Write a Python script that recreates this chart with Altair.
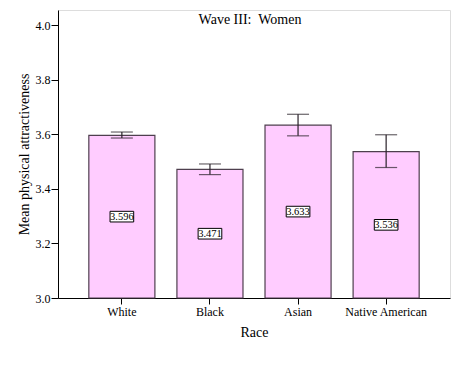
import altair as alt
import pandas as pd

races = ["White", "Black", "Asian", "Native American"]
means = [3.596, 3.471, 3.633, 3.536]
lower = [3.586, 3.452, 3.594, 3.478]
upper = [3.608, 3.491, 3.673, 3.598]
labels = ["3.596", "3.471", "3.633", "3.536"]

df = pd.DataFrame({"race": races, "mean": means, "lo": lower, "hi": upper,
                   "label": labels, "mid": [(3.0 + m) / 2 for m in means]})

FONT = "Liberation Serif"
W, H = 392, 288

xenc = alt.X("race:N", sort=races, title="Race",
             scale=alt.Scale(paddingInner=0.25, paddingOuter=0.35),
             axis=alt.Axis(labelAngle=0, labelFont=FONT, labelFontSize=12, labelColor="black",
                           titleFont=FONT, titleFontSize=14, titleFontWeight="normal", titleColor="black",
                           titleX=196, titleY=27, titleAnchor="middle", titleAlign="center",
                           tickSize=6, tickColor="black", domainColor="black", labelPadding=2))
yscale = alt.Scale(domain=[3.0, 4.055], nice=False, zero=False)
yenc = alt.Y("mean:Q", scale=yscale, title="Mean physical attractiveness",
             axis=alt.Axis(values=[3.0, 3.2, 3.4, 3.6, 3.8, 4.0], format=".1f", grid=False,
                           labelFont=FONT, labelFontSize=12, labelColor="black",
                           titleFont=FONT, titleFontSize=14, titleFontWeight="normal", titleColor="black",
                           titleX=-34, titleY=144, titleAlign="center", titleBaseline="middle",
                           tickSize=7, tickColor="black", domainColor="black", labelPadding=1))

base = alt.Chart(df)

bars = base.mark_bar(fill="#ffccff", stroke="#4e3f4e", strokeWidth=1.2).encode(
    x=xenc, y=yenc, y2=alt.datum(3.0))

err = base.mark_rule(color="#2a222a", strokeWidth=1.2).encode(
    x=alt.X("race:N", sort=races), y=alt.Y("lo:Q", scale=yscale), y2="hi:Q")
cap_lo = base.mark_tick(color="#2a222a", orient="horizontal", size=22, thickness=1.2).encode(
    x=alt.X("race:N", sort=races), y=alt.Y("lo:Q", scale=yscale))
cap_hi = base.mark_tick(color="#2a222a", orient="horizontal", size=22, thickness=1.2).encode(
    x=alt.X("race:N", sort=races), y=alt.Y("hi:Q", scale=yscale))

box = base.mark_point(shape="M-1,-0.45L1,-0.45L1,0.45L-1,0.45Z", size=560, filled=True,
                      fill="white", stroke="black", strokeWidth=1, opacity=1).encode(
    x=alt.X("race:N", sort=races), y=alt.Y("mid:Q", scale=yscale))
txt = base.mark_text(font=FONT, fontSize=10.5, color="black", baseline="middle").encode(
    x=alt.X("race:N", sort=races), y=alt.Y("mid:Q", scale=yscale), text="label:N")

title = alt.Chart(pd.DataFrame({"t": ["Wave III:\u00a0 Women"]})).mark_text(
    font=FONT, fontSize=14, color="black", baseline="middle").encode(
    x=alt.value(192), y=alt.value(10), text="t:N")

chart = alt.layer(bars, err, cap_lo, cap_hi, box, txt, title).properties(
    width=W, height=H,
    autosize=alt.AutoSizeParams(type="none"),
    padding={"left": 50, "top": 2, "right": 2, "bottom": 60},
).configure_view(stroke="#6a6a6a", strokeWidth=1.5).configure(background="white")

chart.save("out.html", embed_options={"renderer": "svg", "actions": False})
